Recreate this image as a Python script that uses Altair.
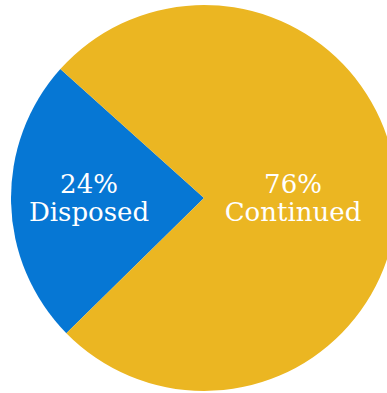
import altair as alt
import pandas as pd
import math

categories = ["Disposed", "Continued"]
values = [24, 76]
pct_labels = ["24%", "76%"]
order_idx = [0, 1]

df = pd.DataFrame({"cat": categories, "value": values, "pct": pct_labels, "idx": order_idx})

start = math.radians(225.5)
theta_scale = alt.Scale(domain=[0, 100], range=[start, start + 2 * math.pi])
lab_start = math.radians(226.8)
lab_scale = alt.Scale(domain=[0, 100], range=[lab_start, lab_start + 2 * math.pi])
CX, CY = 204, 198

arcs = alt.Chart(df).mark_arc(outerRadius=193, stroke=None).encode(
    theta=alt.Theta("value:Q", stack=True, scale=theta_scale),
    order=alt.Order("idx:Q"),
    color=alt.Color("cat:N", scale=alt.Scale(domain=categories, range=["#0677d4", "#ebb622"]), legend=None),
    x=alt.value(CX),
    y=alt.value(CY),
)

lab = alt.Chart(df).transform_window(
    cum="sum(value)", sort=[alt.SortField("idx")], frame=[None, 0]
).transform_calculate(
    mid="datum.cum - datum.value / 2",
    r="datum.cat == 'Disposed' ? 115 : 89",
).encode(
    theta=alt.Theta("mid:Q", stack=None, scale=lab_scale),
    radius=alt.Radius("r:Q", scale=None, stack=None),
    x=alt.value(CX),
    y=alt.value(CY),
)
txt_style = dict(font="DejaVu Serif", fontSize=26, color="white", baseline="middle")
t1 = lab.mark_text(dy=-13, **txt_style).encode(text="pct:N")
t2 = lab.mark_text(dy=15, **txt_style).encode(text="cat:N")

chart = alt.layer(arcs, t1, t2).resolve_scale(theta="independent").properties(
    width=387, height=393, autosize=alt.AutoSizeParams(type="none"), padding=0
).configure_view(stroke=None)

chart.save("out.html", embed_options={"renderer": "svg", "actions": False})
